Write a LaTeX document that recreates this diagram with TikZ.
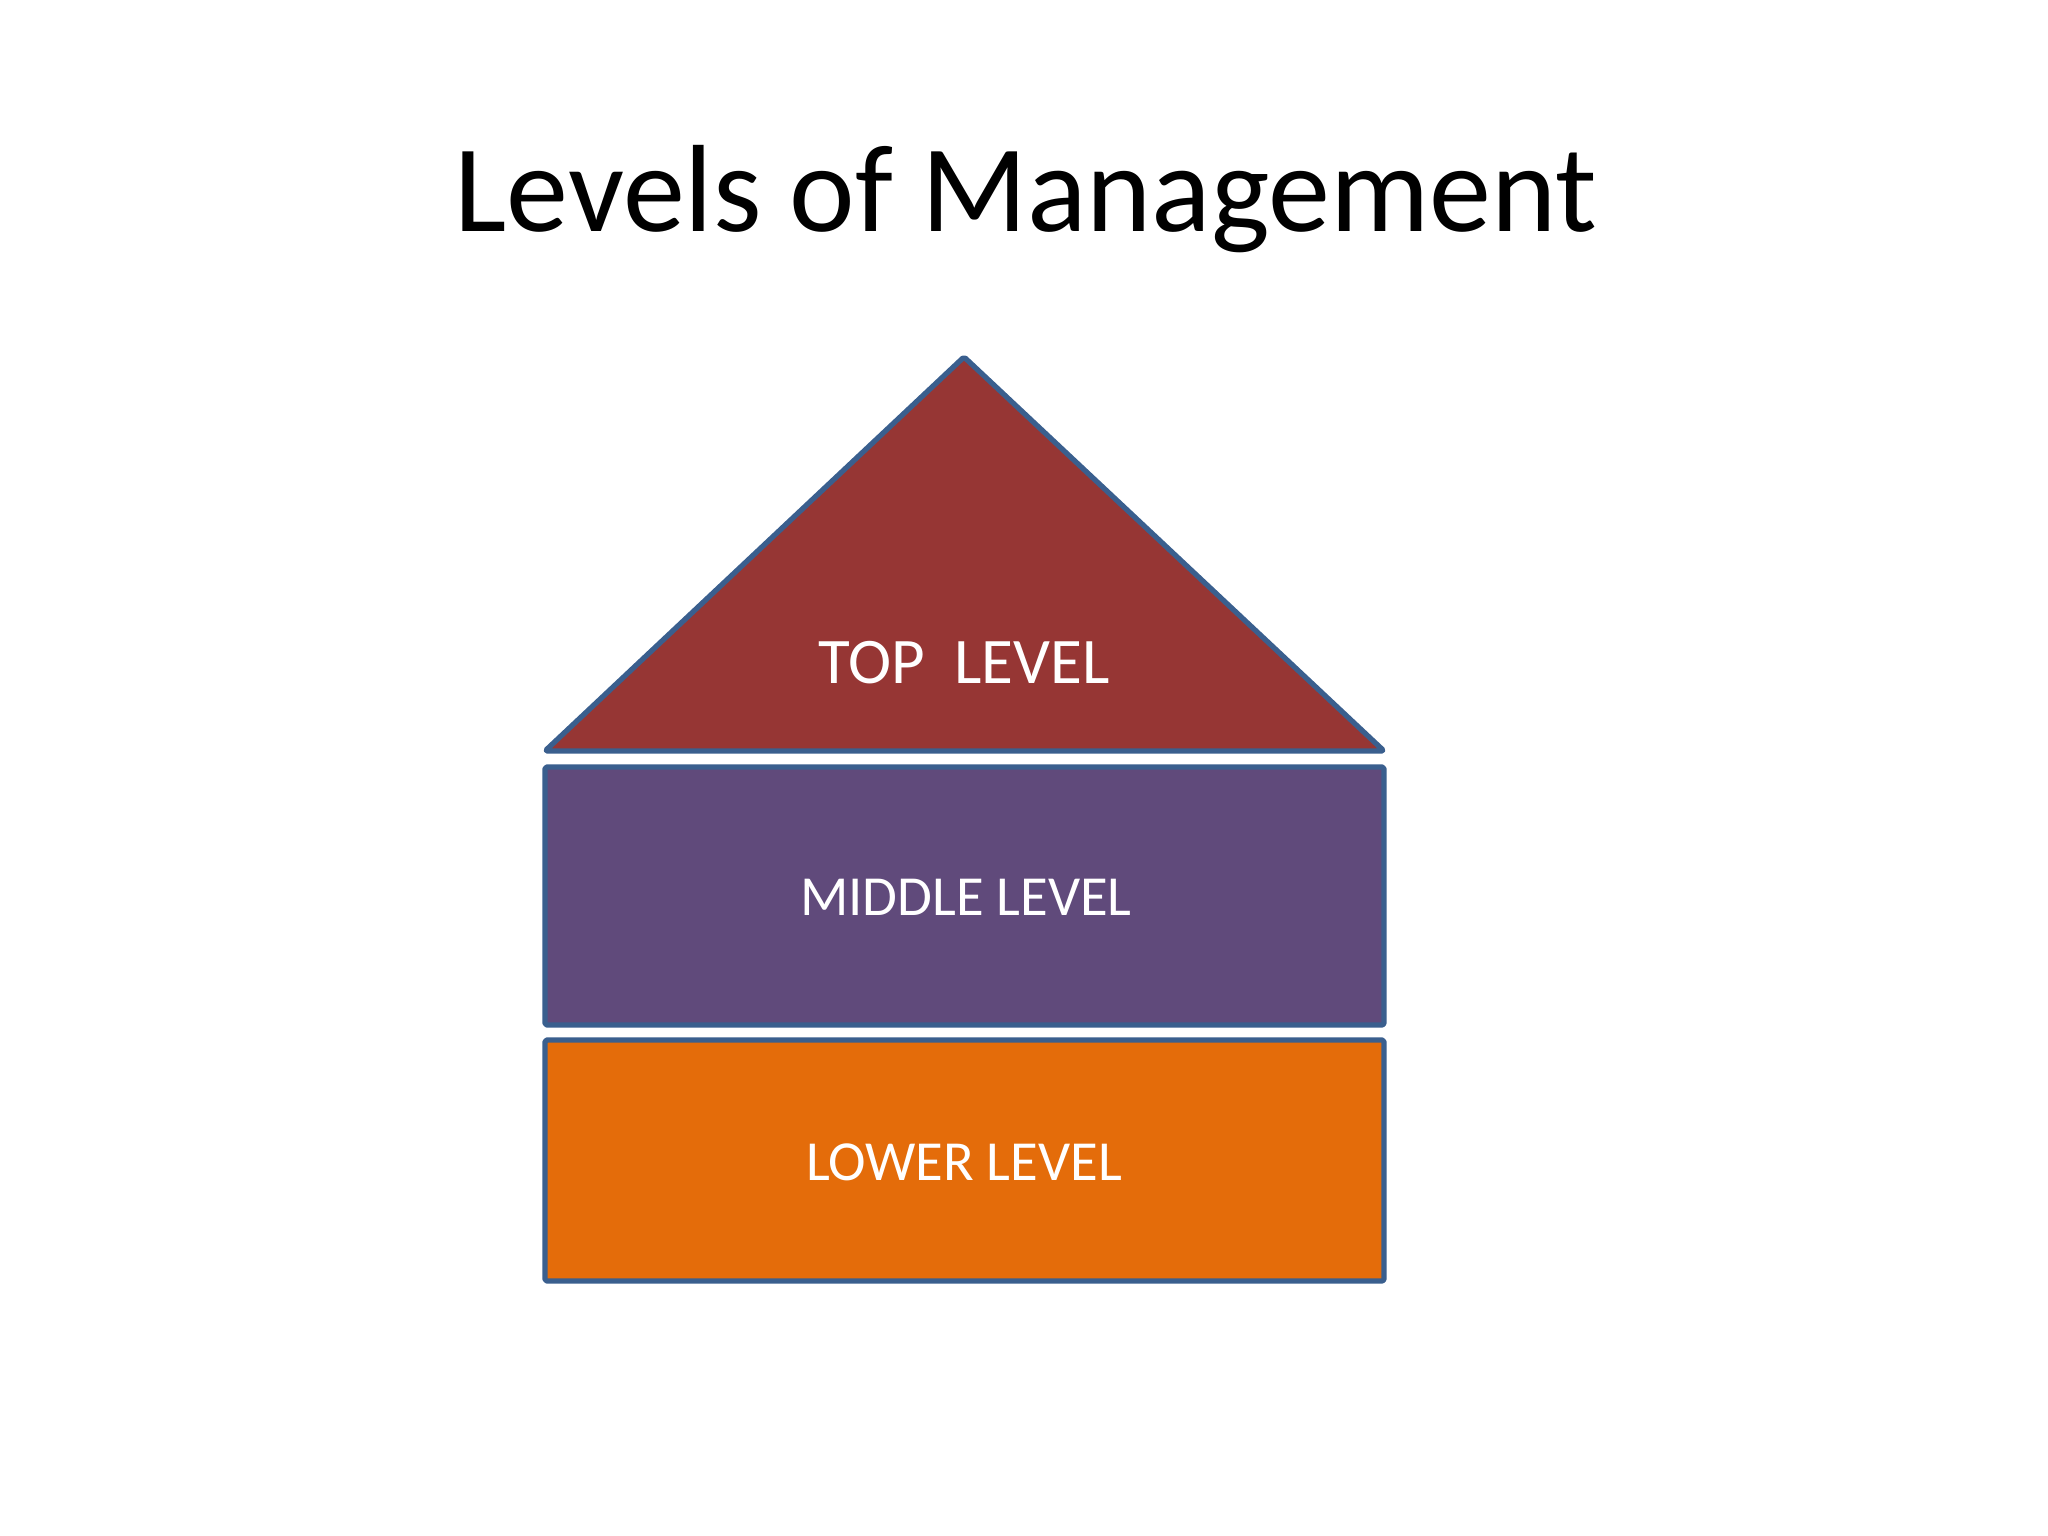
\documentclass[tikz,border=0pt]{standalone}
\usepackage{fontspec}
\setmainfont{Carlito}
\definecolor{edgeblue}{HTML}{3A5F8E}
\definecolor{topred}{HTML}{963634}
\definecolor{midpurple}{HTML}{604A7B}
\definecolor{loworange}{HTML}{E46C0A}
\tikzset{
  levelshape/.style={draw=edgeblue, line width=1.5pt, line join=round, rounded corners=0.5pt},
  leveltext/.style={text=white, anchor=base, inner sep=0pt},
}
\begin{document}
\begin{tikzpicture}[x=0.01cm, y=-0.01cm]
\useasboundingbox[fill=white] (0,0) rectangle (2048,1536);
% title
\node[anchor=base, inner sep=0pt, font=\fontsize{35.3pt}{41pt}\selectfont] (title) at (1026,231) {Levels of Management};
% shapes
\draw[levelshape, fill=topred] (964,357) -- (1384,751) -- (545,751) -- cycle;
\draw[levelshape, fill=midpurple] (545,767) rectangle (1384,1025);
\draw[levelshape, fill=loworange] (545,1040) rectangle (1384,1281);
% labels
\node[leveltext, font=\fontsize{18.5pt}{22pt}\selectfont] (top) at (964,683) {TOP~~LEVEL};
\node[leveltext, font=\fontsize{16.1pt}{19pt}\selectfont] (middle) at (966,915) {MIDDLE LEVEL};
\node[leveltext, font=\fontsize{16.1pt}{20pt}\selectfont] (lower) at (964,1180) {LOWER LEVEL};
\end{tikzpicture}
\end{document}
